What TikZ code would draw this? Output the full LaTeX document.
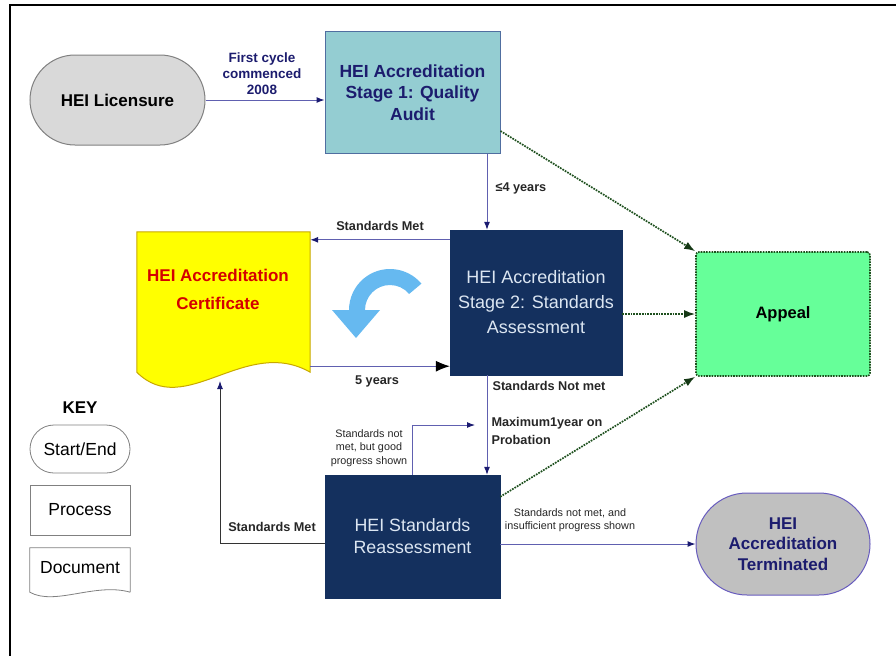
\documentclass[tikz,border=0pt]{standalone}
\usepackage{fontspec}
\setmainfont{Liberation Sans}
\usetikzlibrary{arrows.meta}

\definecolor{lineblue}{RGB}{96,96,176}
\definecolor{headnavy}{RGB}{26,26,112}
\definecolor{textnavy}{RGB}{28,28,110}
\definecolor{boxnavy}{RGB}{20,48,94}
\definecolor{boxteal}{RGB}{148,205,210}
\definecolor{tealedge}{RGB}{80,110,160}
\definecolor{startgray}{RGB}{217,217,217}
\definecolor{endgray}{RGB}{192,192,192}
\definecolor{endedge}{RGB}{104,92,190}
\definecolor{certyellow}{RGB}{255,255,0}
\definecolor{certedge}{RGB}{200,168,0}
\definecolor{certred}{RGB}{212,0,0}
\definecolor{appealgreen}{RGB}{102,255,153}
\definecolor{dkgreen}{RGB}{30,80,30}
\definecolor{cyclearrow}{RGB}{102,185,240}
\definecolor{whitetext}{RGB}{220,230,242}

\tikzset{
  bigtext/.style={font=\bfseries\fontsize{17}{20}\selectfont},
  proc/.style={minimum width=175pt, minimum height=122pt, inner sep=0pt, align=center},
  navybox/.style={proc, fill=boxnavy, draw=boxnavy, text=whitetext,
    font=\fontsize{18}{25}\selectfont},
  flow/.style={draw=lineblue, line width=1pt, -{Latex[length=8pt,width=6pt,color=headnavy]}},
  toappeal/.style={draw=dkgreen, line width=1.7pt, dash pattern=on 1.7pt off 1.1pt,
    -{Latex[length=11pt,width=8pt,color=dkgreen!70!black]}},
  lbl/.style={font=\bfseries\fontsize{12.7}{14}\selectfont, text=black!85},
  smalllbl/.style={font=\fontsize{10.8}{13.5}\selectfont, text=black!85, align=center},
  keybox/.style={draw=gray, line width=0.8pt, minimum width=100pt, inner sep=0pt,
    font=\fontsize{17.5}{19}\selectfont}
}

\begin{document}
\begin{tikzpicture}[x=1pt, y=-1pt]
  \useasboundingbox (0,0) rectangle (896,656);

  % 枠
  \draw [line width=2pt] (896,5) -- (10,5) -- (10,656);

  % 開始・終了
  \node [draw=gray, fill=startgray, line width=1pt, rounded corners=45pt,
    minimum width=175pt, minimum height=90pt, bigtext] (lic) at (117.5,100) {HEI Licensure};
  \node [draw=endedge, fill=endgray, line width=1pt, rounded corners=51pt,
    minimum width=174pt, minimum height=102pt, align=center, text=textnavy,
    font=\bfseries\fontsize{17}{20.5}\selectfont] (term) at (783,544)
    {HEI\\Accreditation\\Terminated};

  % 処理
  \node [proc, fill=boxteal, draw=tealedge, line width=1pt, text=textnavy,
    font=\bfseries\fontsize{17.5}{21.5}\selectfont] (s1) at (412.5,92.5)
    {HEI Accreditation\\Stage 1: Quality\\Audit};
  \node [navybox, minimum width=172pt, minimum height=145pt] (s2) at (536,302.5)
    {HEI Accreditation\\Stage 2: Standards\\Assessment};
  \node [navybox, minimum height=123pt, font=\fontsize{17.8}{22}\selectfont] (re) at (412.5,536.5)
    {HEI Standards\\Reassessment};
  \node [proc, minimum width=174pt, minimum height=124pt, fill=appealgreen, draw=dkgreen,
    line width=1.6pt, dash pattern=on 1.6pt off 1.1pt, rounded corners=3pt,
    font=\bfseries\fontsize{16.5}{18}\selectfont] (appeal) at (783,314) {Appeal};

  % 認定証(文書)
  \node [minimum width=173pt, minimum height=140pt, inner sep=0pt] (cert) at (223.5,302) {};
  \draw [draw=certedge, fill=certyellow, line width=1pt]
    (cert.south east) -- (cert.north east) -- (cert.north west) -- (cert.south west)
    .. controls +(48,48) and +(-65,-37) .. (cert.south east) -- cycle;
  \node [align=center, text=certred, font=\bfseries\fontsize{17}{28}\selectfont]
    (certtext) at (218,289) {HEI Accreditation\\Certificate};

  % 循環の矢印
  \fill [cyclearrow] (390,310) ++(-40:41) arc (-40:-180:41) -- (332,310)
    -- (356,338) -- (380,310) -- (365,310) arc (-180:-40:25) -- cycle;

  % 矢印
  \coordinate (laneA) at (487,0);
  \coordinate (probe) at (475,425);
  \coordinate (certfoot) at (220,381);
  \draw [flow] (lic.east) -- (s1.west |- lic.east);
  \draw [flow] (s1.south -| laneA) -- (s2.north -| laneA);
  \draw [flow] ([yshift=-10pt]s2.north west) -- ([yshift=-8pt]cert.north east);
  \draw [flow, -{Latex[length=14pt,width=11pt,color=black]}]
    ([yshift=6pt]cert.south east) -- ([yshift=9pt]s2.south west);
  \draw [flow] (s2.south -| laneA) -- (re.north -| laneA);
  \draw [flow] (re.north) |- (probe);
  \draw [flow, draw=black!80] ([yshift=-7pt]re.west) -| (certfoot);
  \draw [flow] (re.east |- term.west) -- (term.west);

  % 異議申立て
  \draw [toappeal] ([yshift=23pt]s1.south east) -- (appeal.north west);
  \draw [toappeal] (s2.east |- appeal.west) -- (appeal.west);
  \draw [toappeal] ([yshift=-22pt]re.north east) -- (appeal.south west);

  % ラベル
  \node [align=center, text=textnavy, font=\bfseries\fontsize{13.5}{16}\selectfont]
    (cycle) at (262,74) {First cycle\\commenced\\2008};
  \node [lbl, anchor=west] (four) at (492,188) {≤4 years};
  \node [lbl] (metA) at (380,226) {Standards Met};
  \node [lbl] (five) at (377,381) {5 years};
  \node [lbl, anchor=west] (notmet) at (489,386) {Standards Not met};
  \node [lbl, anchor=west, align=left, font=\bfseries\fontsize{12.7}{18}\selectfont]
    (maxone) at (488,431) {Maximum1year on\\Probation};
  \node [smalllbl] (good) at (369,448) {Standards not\\met, but good\\progress shown};
  \node [lbl] (metB) at (272,527) {Standards Met};
  \node [smalllbl] (insuff) at (570,520) {Standards not met, and\\insufficient progress shown};

  % 凡例
  \node [font=\bfseries\fontsize{17}{19}\selectfont] (key) at (80,408) {KEY};
  \node [keybox, minimum height=48pt, rounded corners=24pt] (kstart) at (80,449) {Start/End};
  \node [keybox, minimum height=50pt] (kproc) at (80,510) {Process};
  \node [minimum width=100pt, minimum height=44pt, inner sep=0pt] (kdoc) at (80,570) {};
  \draw [draw=gray, line width=0.8pt]
    (kdoc.south east) -- (kdoc.north east) -- (kdoc.north west) -- (kdoc.south west)
    .. controls +(25,14) and +(-35,-10) .. (kdoc.south east);
  \node [font=\fontsize{17.5}{19}\selectfont] (kdoctext) at (80,568) {Document};

\end{tikzpicture}
\end{document}
